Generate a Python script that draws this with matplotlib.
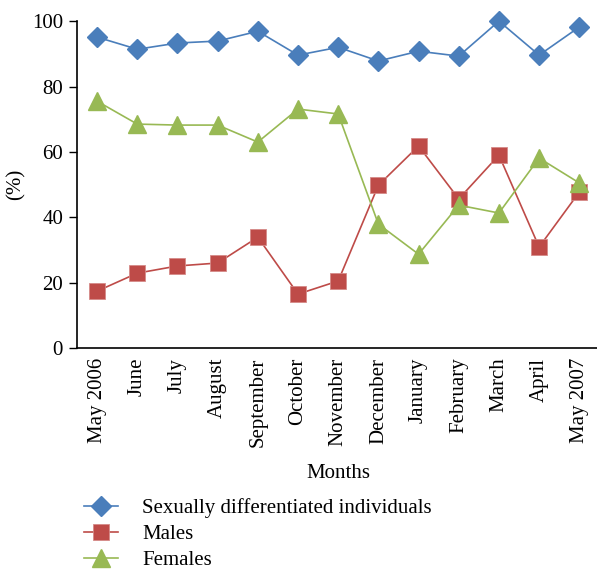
import numpy as np
import matplotlib.pyplot as plt

months = ["May 2006", "June", "July", "August", "September", "October", "November",
          "December", "January", "February", "March", "April", "May 2007"]
differentiated = [95.1, 91.4, 93.3, 93.9, 96.9, 89.6, 92.0, 87.8, 90.8, 89.3, 100.0, 89.6, 98.2]
males = [17.4, 22.9, 25.1, 26.0, 33.9, 16.5, 20.5, 49.8, 61.8, 45.6, 59.0, 30.9, 47.7]
females = [75.5, 68.5, 68.2, 68.2, 63.0, 73.1, 71.6, 37.9, 28.7, 43.7, 41.3, 58.1, 50.5]

plt.rcParams['font.family'] = ['Liberation Serif', 'DejaVu Serif']
plt.rcParams['font.size'] = 15

fig = plt.figure(figsize=(5.97, 5.71), dpi=100)
ax = fig.add_axes([0.129, 0.3905, 0.875, 0.5725])

x = np.arange(len(months))
ax.plot(x, differentiated, color='#4A7EBB', lw=1.2, marker='D', markersize=10.5,
        markeredgecolor='#4A7EBB', label='Sexually differentiated individuals',
        clip_on=False)
ax.plot(x, males, color='#BE4B48', lw=1.2, marker='s', markersize=11,
        markeredgecolor='#D58A88', markeredgewidth=0.6, label='Males', clip_on=False)
ax.plot(x, females, color='#98B954', lw=1.2, marker='^', markersize=13,
        markeredgecolor='#98B954', label='Females', clip_on=False)

ax.set_xlim(-0.5, len(months) - 0.5)
ax.set_ylim(0, 100)
ax.set_yticks(np.arange(0, 101, 20))
ax.set_xticks(x, months, rotation=90)
ax.tick_params(axis='x', length=0, pad=7)
ax.tick_params(axis='y', length=6, width=1, direction='out', pad=4)
ax.spines['top'].set_visible(False)
ax.spines['right'].set_visible(False)
for s in ('left', 'bottom'):
    ax.spines[s].set_linewidth(1.2)

ax.set_ylabel('(%)')
ax.yaxis.set_label_coords(-0.098, 0.5)
ax.set_xlabel('Months', labelpad=12)

fig.legend(loc='upper left', bbox_to_anchor=(0.14, 0.127), frameon=False,
           handlelength=1.65, handletextpad=1.15, labelspacing=0.3,
           borderaxespad=0, borderpad=0)

plt.savefig('out.png', dpi=100)
